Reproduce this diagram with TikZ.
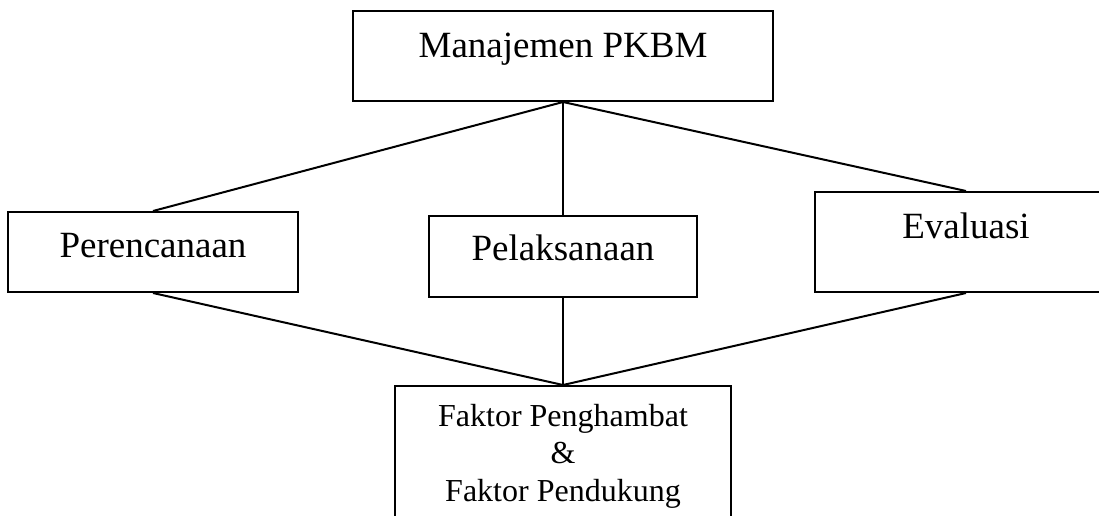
\documentclass[tikz,border=0pt]{standalone}
\usepackage{fontspec}
\setmainfont{Liberation Serif}
\usepackage{tikz}
\usetikzlibrary{positioning}

\begin{document}
\begin{tikzpicture}[
    x=1pt, y=-1pt,
    kotak/.style={draw, line width=2pt, inner sep=0pt, rectangle},
    besar/.style={font=\fontsize{37}{40}\selectfont},
    kecil/.style={font=\fontsize{32}{37.5}\selectfont, align=center},
    garis/.style={line width=2pt}
]
                \clip (0,0) rectangle (1099,515);

                \node[kotak, besar, minimum width=420pt, minimum height=90pt,
                    text height=25pt, text depth=23pt] (manajemen) at (563,56) {Manajemen PKBM};

                \node[kotak, besar, minimum width=290pt, minimum height=80pt,
                    text height=25pt, text depth=15pt] (perencanaan) at (153,252) {Perencanaan};

                \node[kotak, besar, minimum width=268pt, minimum height=81pt,
                    text height=25pt, text depth=18pt] (pelaksanaan) at (563,256.5) {Pelaksanaan};

                \node[kotak, besar, minimum width=302pt, minimum height=100pt,
                    text height=17pt, text depth=25pt] (evaluasi) at (966,242) {Evaluasi};

                \node[kotak, kecil, anchor=north, minimum width=336pt, inner ysep=18pt] (faktor) at (563,385)
                    {Faktor Penghambat\\\&\\Faktor Pendukung};

                % garis penghubung
                \draw[garis] (manajemen.south) -- (perencanaan.north);
                \draw[garis] (manajemen.south) -- (pelaksanaan.north);
                \draw[garis] (manajemen.south) -- (evaluasi.north);
                \draw[garis] (perencanaan.south) -- (faktor.north);
                \draw[garis] (pelaksanaan.south) -- (faktor.north);
                \draw[garis] (evaluasi.south) -- (faktor.north);

\end{tikzpicture}
\end{document}
